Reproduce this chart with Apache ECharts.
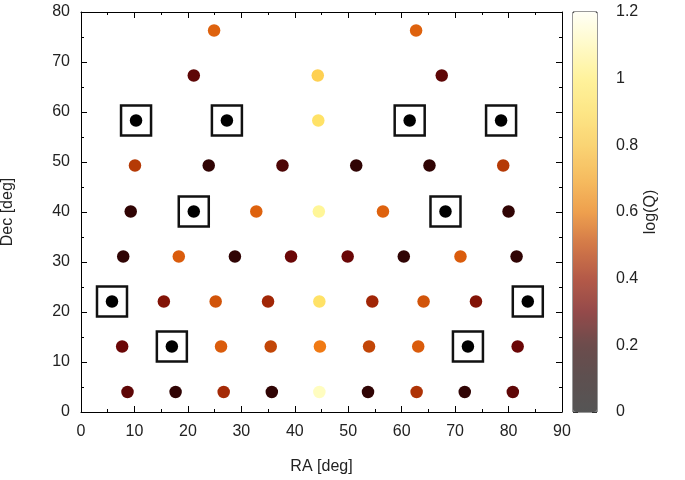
<!DOCTYPE html>
<html>
<head>
<meta charset="utf-8">
<script src="https://cdn.jsdelivr.net/npm/echarts@6/dist/echarts.min.js"></script>
<style>
  html, body { margin: 0; padding: 0; background: #fff; }
  #chart { width: 685px; height: 480px; }
</style>
</head>
<body>
<div id="chart"></div>
<script>
// field centres, row by row (bottom row last)
const ra = [
  24.9, 62.7,
  21.1, 44.3, 67.5,
  10.3, 27.3, 44.4, 61.5, 78.6,
  10.1, 23.9, 37.7, 51.5, 65.2, 79.0,
  9.3, 21.1, 32.8, 44.5, 56.5, 68.2, 80.0,
  7.9, 18.3, 28.8, 39.3, 49.9, 60.4, 71.0, 81.5,
  5.8, 15.5, 25.2, 35.0, 44.6, 54.5, 64.1, 73.9, 83.6,
  7.7, 17.0, 26.2, 35.5, 44.7, 53.9, 63.1, 72.4, 81.7,
  8.7, 17.7, 26.7, 35.7, 44.6, 53.7, 62.8, 71.8, 80.8
]
const dec = [
  76.3, 76.3,
  67.3, 67.3, 67.3,
  58.3, 58.3, 58.3, 58.3, 58.3,
  49.3, 49.3, 49.3, 49.3, 49.3, 49.3,
  40.1, 40.1, 40.1, 40.1, 40.1, 40.1, 40.1,
  31.1, 31.1, 31.1, 31.1, 31.1, 31.1, 31.1, 31.1,
  22.1, 22.1, 22.1, 22.1, 22.1, 22.1, 22.1, 22.1, 22.1,
  13.1, 13.1, 13.1, 13.1, 13.1, 13.1, 13.1, 13.1, 13.1,
  4.0, 4.0, 4.0, 4.0, 4.0, 4.0, 4.0, 4.0, 4.0
]
const logQ = [
  0.52, 0.52,
  0.18, 0.85, 0.18,
  0, 0, 0.93, 0, 0,
  0.38, 0.1, 0.15, 0.1, 0.1, 0.38,
  0.1, 0, 0.52, 1.05, 0.52, 0, 0.1,
  0.1, 0.5, 0.1, 0.2, 0.2, 0.1, 0.5, 0.1,
  0, 0.25, 0.47, 0.32, 0.93, 0.32, 0.47, 0.25, 0,
  0.2, 0, 0.5, 0.42, 0.6, 0.42, 0.5, 0, 0.2,
  0.18, 0.1, 0.33, 0.1, 1.12, 0.1, 0.36, 0.1, 0.18
]

// fields marked with a square
const boxRA = [10.3, 27.3, 61.5, 78.6, 21.1, 68.2, 5.8, 83.6, 17.0, 72.4]
const boxDec = [58.3, 58.3, 58.3, 58.3, 40.1, 40.1, 22.1, 22.1, 13.1, 13.1]

const dotColors = ['#000000', '#300404', '#6a0606', '#9a2006', '#bc4006', '#da5c0c', '#f07a14',
  '#f8a030', '#fcc448', '#ffdc5c', '#fff080', '#fffcb0', '#ffffff']
const barColors = ['#555555', '#5d5050', '#6c4c4c', '#944a4a', '#b45a48', '#d27848', '#eea04e',
  '#f6bc60', '#fad474', '#fde686', '#fff29c', '#fffac8', '#fffff6']

const font = 'Liberation Sans, Arial, sans-serif'
const txt = '#222'
const fs = 16

const points = ra.map((x, i) => [x, dec[i], logQ[i]])
const boxes = boxRA.map((x, i) => [x, boxDec[i]])

const frameAxis = {
  axisLine: {show: true, onZero: false, lineStyle: {color: '#000', width: 1}},
  axisTick: {show: true, inside: true, length: 6, lineStyle: {color: '#000'}},
  minorTick: {show: true, splitNumber: 2, length: 3, lineStyle: {color: '#000'}},
  splitLine: {show: false},
  axisLabel: {show: false}
}

const option = {
  backgroundColor: '#fff',
  animation: false,
  textStyle: {fontFamily: font},
  grid: [
    {left: 81, right: 123, top: 12, bottom: 68, outerBoundsMode: 'none', containLabel: false},
    {left: 573, top: 12, width: 24, height: 400, outerBoundsMode: 'none', containLabel: false,
      show: true, borderColor: '#333', borderWidth: 1, backgroundColor: 'transparent'}
  ],
  xAxis: [
    Object.assign({}, frameAxis, {
      gridIndex: 0, type: 'value', min: 0, max: 90, interval: 10, position: 'bottom',
      axisLabel: {show: true, color: txt, fontSize: fs, margin: 12, fontFamily: font},
      name: 'RA [deg]', nameLocation: 'middle', nameGap: 47,
      nameTextStyle: {color: txt, fontSize: fs, fontFamily: font}
    }),
    Object.assign({}, frameAxis, {gridIndex: 0, type: 'value', min: 0, max: 90, interval: 10, position: 'top'}),
    {gridIndex: 1, type: 'value', min: 0, max: 1, show: false}
  ],
  yAxis: [
    Object.assign({}, frameAxis, {
      gridIndex: 0, type: 'value', min: 0, max: 80, interval: 10, position: 'left',
      axisLabel: {show: true, color: txt, fontSize: fs, margin: 11, fontFamily: font},
      name: 'Dec [deg]', nameLocation: 'middle', nameGap: 65, nameRotate: 90,
      nameTextStyle: {color: txt, fontSize: fs, fontFamily: font}
    }),
    Object.assign({}, frameAxis, {gridIndex: 0, type: 'value', min: 0, max: 80, interval: 10, position: 'right'}),
    {
      gridIndex: 1, type: 'value', min: 0, max: 1.2, interval: 0.2, position: 'left',
      axisLine: {show: false, onZero: false}, splitLine: {show: false}, axisLabel: {show: false},
      axisTick: {show: true, inside: true, length: 5, lineStyle: {color: '#333'}}
    },
    {
      gridIndex: 1, type: 'value', min: 0, max: 1.2, interval: 0.2, position: 'right',
      axisLine: {show: false, onZero: false}, splitLine: {show: false},
      axisTick: {show: true, inside: true, length: 5, lineStyle: {color: '#333'}},
      axisLabel: {show: true, color: txt, fontSize: fs, margin: 19, fontFamily: font,
        formatter: v => String(Math.round(v * 10) / 10)},
      name: 'log(Q)', nameLocation: 'middle', nameGap: 46, nameRotate: 90,
      nameTextStyle: {color: txt, fontSize: fs, fontFamily: font}
    }
  ],
  visualMap: {
    type: 'continuous',
    min: 0, max: 1.2,
    dimension: 2,
    seriesIndex: 0,
    calculable: false,
    hoverLink: false,
    left: 573, top: 12,
    itemWidth: 24, itemHeight: 400,
    padding: 0,
    text: null,
    inRange: {color: dotColors},
    controller: {inRange: {color: barColors}}
  },
  series: [
    {
      type: 'scatter', xAxisIndex: 0, yAxisIndex: 0,
      symbol: 'circle', symbolSize: 12.5,
      itemStyle: {opacity: 1},
      data: points
    },
    {
      type: 'scatter', xAxisIndex: 0, yAxisIndex: 0,
      symbol: 'rect', symbolSize: 30, z: 1,
      itemStyle: {opacity: 1, color: 'transparent', borderColor: '#111', borderWidth: 2.5},
      data: boxes
    }
  ]
}

echarts.init(document.getElementById('chart')).setOption(option)
</script>
</body>
</html>
